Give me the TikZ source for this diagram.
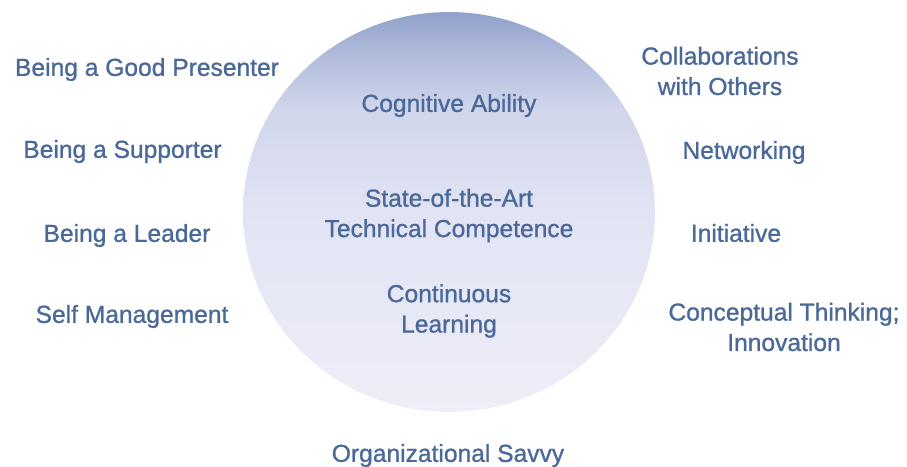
\documentclass[tikz,border=0pt]{standalone}
\usepackage{fontspec}
\setmainfont{Liberation Sans}[BoldFont=Liberation Sans,BoldFeatures={FakeBold=1}]

\definecolor{skillblue}{RGB}{74,104,152}
\definecolor{ringlow}{RGB}{238,238,248}
\definecolor{ringmid}{RGB}{226,228,244}
\definecolor{ringup}{RGB}{208,213,235}
\definecolor{ringhigh}{RGB}{175,186,218}
\definecolor{ringtop}{RGB}{145,160,202}
\pgfdeclareverticalshading{ringfade}{100bp}{color(0bp)=(ringlow); color(25bp)=(ringlow);
  color(50bp)=(ringmid); color(63bp)=(ringup); color(70bp)=(ringhigh);
  color(75bp)=(ringtop); color(100bp)=(ringtop)}

\begin{document}
\begin{tikzpicture}[x=0.02cm,y=-0.02cm,
    skill/.style={text=skillblue,font=\fontsize{14}{17.3}\selectfont\bfseries,align=center,inner sep=0pt}]
    \useasboundingbox (0,0) rectangle (907,467);

    \shade[shading=ringfade] (449,212) ellipse [x radius=4.12cm,y radius=4cm];

    \node[skill] (cognitive) at (449,105.5) {Cognitive Ability};
    \node[skill] (technical) at (449,215.5) {State-of-the-Art\\Technical Competence};
    \node[skill] (learning) at (449,311) {Continuous\\Learning};

    \foreach \name/\x/\y/\txt in {presenter/147/69.5/Being a Good Presenter,
        supporter/122.5/151.5/Being a Supporter,
        leader/127/235.5/Being a Leader,
        selfmgmt/132/316.5/Self Management}
        \node[skill] (\name) at (\x,\y) {\txt};

    \node[skill] (collab) at (720,71) {Collaborations\\with Others};
    \node[skill] (network) at (744,152.5) {Networking};
    \node[skill] (initiative) at (736,233) {Initiative};
    \node[skill] (concept) at (784,327) {Conceptual Thinking;\\Innovation};

    \node[skill] (savvy) at (448,455.5) {Organizational Savvy};
\end{tikzpicture}
\end{document}
